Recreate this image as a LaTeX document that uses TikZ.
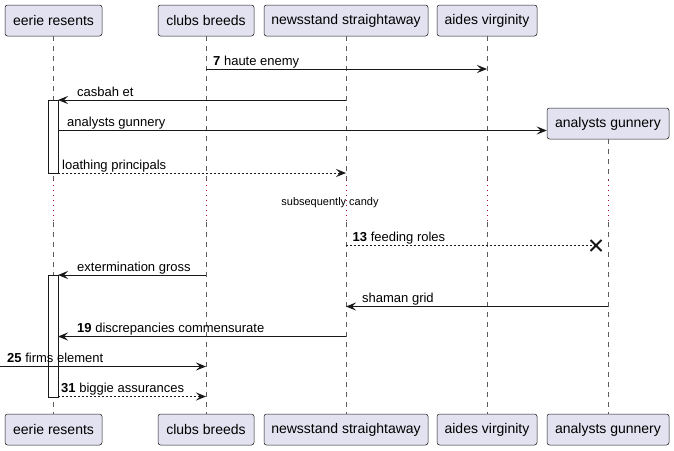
\documentclass[tikz,border=0pt]{standalone}
\usepackage{fontspec}
\setmainfont{Liberation Sans}
\usetikzlibrary{arrows.meta,calc}
\definecolor{partfill}{HTML}{E2E2F0}
\definecolor{partline}{HTML}{181818}
\definecolor{delayred}{HTML}{A80036}
\tikzset{
  part/.style={draw=partline, fill=partfill, line width=0.5pt, rounded corners=2.5pt,
    minimum height=31pt, inner sep=0pt, font=\fontsize{14}{16}\selectfont},
  life/.style={draw=partline!70, line width=0.5pt, dash pattern=on 5pt off 5pt},
  delayline/.style={draw=delayred, line width=0.8pt, dash pattern=on 1pt off 4pt},
  actbox/.style={draw=partline, fill=white, line width=1pt},
  msg/.style={draw=partline, line width=1pt, -{Stealth[length=10pt,width=8pt,inset=4pt]}},
  rmsg/.style={msg, dash pattern=on 2pt off 2pt},
  lbl/.style={anchor=base west, inner sep=0pt, font=\fontsize{13}{15}\selectfont},
  dlbl/.style={inner sep=0pt, font=\fontsize{11}{13}\selectfont},
}
\begin{document}
\begin{tikzpicture}[x=1pt,y=-1pt]
\useasboundingbox (0,0) rectangle (674,450);
% participants top
\node[part, minimum width=97pt] (erT) at (53.5,20.5) {eerie resents};
\node[part, minimum width=96pt] (cbT) at (206,20.5) {clubs breeds};
\node[part, minimum width=164pt] (nsT) at (346,20.5) {newsstand straightaway};
\node[part, minimum width=100pt] (avT) at (487,20.5) {aides virginity};
% participants bottom
\node[part, minimum width=97pt] (erB) at (53.5,429.5) {eerie resents};
\node[part, minimum width=96pt] (cbB) at (206,429.5) {clubs breeds};
\node[part, minimum width=164pt] (nsB) at (346,429.5) {newsstand straightaway};
\node[part, minimum width=100pt] (avB) at (487,429.5) {aides virginity};
\node[part, minimum width=122pt] (agB) at (608,429.5) {analysts gunnery};
% created participant
\node[part, minimum width=122pt] (agT) at (608,123.5) {analysts gunnery};
% delay rows
\coordinate (d1) at (0,180);
\coordinate (d2) at (0,222);
% lifelines
\foreach \t/\b in {erT/erB, cbT/cbB, nsT/nsB, avT/avB, agT/agB}{
  \draw[life] (\t.south) -- (\t.south |- d1);
  \draw[delayline] (\t.south |- d1) -- (\t.south |- d2);
  \draw[life] (\t.south |- d2) -- (\b.north);
}
% activation boxes
\draw[actbox] (48,100) rectangle (58,173);
\draw[actbox] (48,275) rectangle (58,397);
\coordinate (a1) at (58,0);
% message rows
\coordinate (m1) at (0,69);
\coordinate (m2) at (0,100);
\coordinate (m3) at (0,130.5);
\coordinate (m4) at (0,173);
\coordinate (m5) at (0,245.5);
\coordinate (m6) at (0,275);
\coordinate (m7) at (0,306.5);
\coordinate (m8) at (0,336.5);
\coordinate (m9) at (0,366.5);
\coordinate (m10) at (0,396.5);
\coordinate (xc) at (596,245.5);
% messages
\draw[msg] (cbT.south |- m1) -- (avT.south |- m1);
\node[lbl] (l1) at (213,65) {\textbf{7} haute enemy};
\draw[msg] (nsT.south |- m2) -- (a1 |- m2);
\node[lbl] (l2) at (77,96) {casbah et};
\draw[msg] (a1 |- m3) -- (agT.west |- m3);
\node[lbl] (l3) at (67,126.5) {analysts gunnery};
\draw[rmsg] (a1 |- m4) -- (nsT.south |- m4);
\node[lbl] (l4) at (62,169) {loathing principals};
\node[dlbl] (dl) at (330,203) {subsequently candy};
\draw[draw=partline, line width=1pt, dash pattern=on 2pt off 2pt] (nsT.south |- m5) -- (xc);
\draw[draw=partline, line width=2pt] ($(xc)+(-5.5,-5.5)$) -- ($(xc)+(5.5,5.5)$)
  ($(xc)+(-5.5,5.5)$) -- ($(xc)+(5.5,-5.5)$);
\node[lbl] (l5) at (352.5,241.5) {\textbf{13} feeding roles};
\draw[msg] (cbT.south |- m6) -- (a1 |- m6);
\node[lbl] (l6) at (77,271) {extermination gross};
\draw[msg] (agT.south |- m7) -- (nsT.south |- m7);
\node[lbl] (l7) at (362,302.5) {shaman grid};
\draw[msg] (nsT.south |- m8) -- (a1 |- m8);
\node[lbl] (l8) at (77,332.5) {\textbf{19} discrepancies commensurate};
\coordinate (left) at (0,366.5);
\draw[msg] (left) -- (cbT.south |- m9);
\node[lbl] (l9) at (7,362.5) {\textbf{25} firms element};
\draw[rmsg] (a1 |- m10) -- (cbT.south |- m10);
\node[lbl] (l10) at (61,392.5) {\textbf{31} biggie assurances};
\end{tikzpicture}
\end{document}
